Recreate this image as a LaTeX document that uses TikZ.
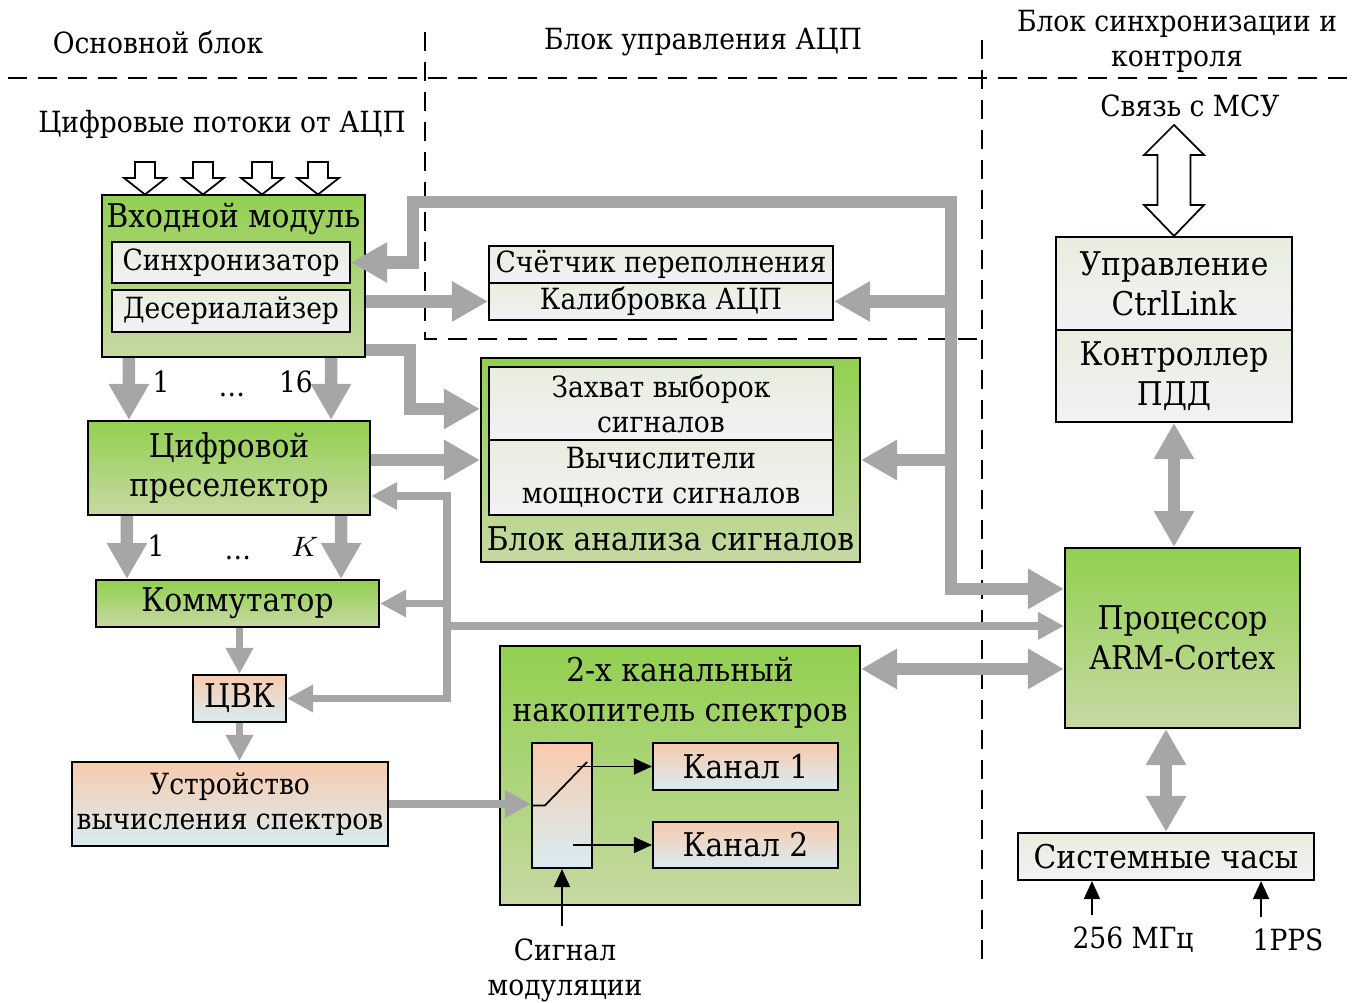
\documentclass[tikz,border=0pt]{standalone}
\usepackage{fontspec}
\setmainfont{DejaVu Serif}[FakeStretch=0.91]
\definecolor{grtop}{RGB}{146, 208, 80}
\definecolor{grbot}{RGB}{198, 217, 162}
\definecolor{gytop}{RGB}{232, 238, 222}
\definecolor{gybot}{RGB}{242, 241, 246}
\definecolor{ortop}{RGB}{248, 203, 173}
\definecolor{orbot}{RGB}{216, 236, 242}
\definecolor{busgrey}{RGB}{166, 166, 166}
\usetikzlibrary{arrows.meta, positioning}
\tikzset{
    greenbox/.style={rectangle, draw=black, line width=0.6pt, top color=grtop, bottom color=grbot,
                     align=center, inner sep=1pt},
    greybox/.style={rectangle, draw=black, line width=0.6pt, top color=gytop, bottom color=gybot,
                    align=center, inner sep=1pt},
    peachbox/.style={rectangle, draw=black, line width=0.6pt, top color=ortop, bottom color=orbot,
                     align=center, inner sep=1pt},
    bigtext/.style={font=\fontsize{9.3pt}{11.3pt}\selectfont},
    busarrow/.style={draw=busgrey, line width=1.25mm, >={Triangle[width=3.8mm, length=3.6mm]}},
    thinbus/.style={draw=busgrey, line width=0.75mm, >={Triangle[width=2.6mm, length=2.6mm]}},
    sigarrow/.style={draw=black, line width=0.5pt, >={Triangle[width=1.6mm, length=1.8mm]}},
    hollow/.style={draw=black, line width=0.5pt, fill=white},
    divider/.style={draw=black, line width=0.6pt, dash pattern=on 1.9mm off 1.1mm},
}

\begin{document}
\begin{tikzpicture}[font=\fontsize{8.3pt}{10pt}\selectfont]
    \useasboundingbox (0,0) rectangle (13.57,-10.03);

    \draw[divider] (0.08,-0.78) -- (13.57,-0.78);
    \draw[divider] (4.25,-0.32) -- (4.25,-3.39) -- (9.82,-3.39);
    \draw[divider] (9.82,-0.40) -- (9.82,-9.62);

    \node (hmain) at (1.58,-0.42) {Основной блок};
    \node (hadc) at (7.03,-0.42) {Блок управления АЦП};
    \node[align=center] (hsync) at (11.77,-0.41) {Блок синхронизации и\\контроля};
    \node (streams) at (2.22,-1.24) {Цифровые потоки от АЦП};
    \node (msu) at (11.90,-1.06) {Связь с МСУ};

    \node[greenbox, minimum width=2.63cm, minimum height=1.62cm,
          label={[anchor=north, bigtext, yshift=1pt]north:Входной модуль}] (inmod) at (2.335,-2.76) {};
    \node[greybox, minimum width=2.38cm, minimum height=0.41cm] (sync) at (2.31,-2.625) {Синхронизатор};
    \node[greybox, minimum width=2.38cm, minimum height=0.42cm, below=0.05cm of sync] (deser) {Десериалайзер};
    \node[greenbox, bigtext, minimum width=2.82cm, minimum height=0.94cm] (presel) at (2.29,-4.68) {Цифровой\\преселектор};
    \node[greenbox, bigtext, minimum width=2.83cm, minimum height=0.47cm] (komm) at (2.375,-6.035) {Коммутатор};
    \node[peachbox, bigtext, minimum width=0.93cm, minimum height=0.47cm] (cvk) at (2.395,-6.985) {ЦВК};
    \node[peachbox, minimum width=3.16cm, minimum height=0.84cm] (fftdev) at (2.30,-8.04) {Устройство\\вычисления спектров};

    \node[greybox, minimum width=3.44cm, minimum height=0.37cm] (ovf) at (6.61,-2.645) {Счётчик переполнения};
    \node[greybox, minimum width=3.44cm, minimum height=0.37cm, below=-0.6pt of ovf] (calib) {Калибровка АЦП};

    \node[greenbox, minimum width=3.79cm, minimum height=2.04cm,
          label={[anchor=south, bigtext]south:Блок анализа сигналов}] (anblk) at (6.705,-4.60) {};
    \node[greybox, minimum width=3.44cm, minimum height=0.73cm] (capt) at (6.61,-4.035) {Захват выборок\\сигналов};
    \node[greybox, minimum width=3.44cm, minimum height=0.75cm, below=-0.6pt of capt] (pwr) {Вычислители\\мощности сигналов};

    \node[greenbox, minimum width=3.60cm, minimum height=2.59cm,
          label={[anchor=north, align=center, bigtext]north:2-х канальный\\накопитель спектров}] (accum) at (6.80,-7.755) {};
    \node[peachbox, minimum width=0.60cm, minimum height=1.25cm] (swbox) at (5.62,-8.055) {};
    \node[peachbox, bigtext, minimum width=1.85cm, minimum height=0.47cm] (ch1) at (7.455,-7.665) {Канал 1};
    \node[peachbox, bigtext, minimum width=1.85cm, minimum height=0.46cm] (ch2) at (7.455,-8.45) {Канал 2};
    \node[align=center] (sigmod) at (5.65,-9.70) {Сигнал\\модуляции};

    \node[greybox, bigtext, minimum width=2.36cm, minimum height=0.93cm] (ctrl) at (11.74,-2.835) {Управление\\CtrlLink};
    \node[greybox, bigtext, minimum width=2.36cm, minimum height=0.92cm, below=-0.6pt of ctrl] (pdd) {Контроллер\\ПДД};
    \node[greenbox, bigtext, minimum width=2.35cm, minimum height=1.80cm] (arm) at (11.825,-6.38) {Процессор\\ARM-Cortex};
    \node[greybox, bigtext, minimum width=2.96cm, minimum height=0.47cm] (clk) at (11.66,-8.565) {Системные часы};
    \node (f256) at (11.33,-9.40) {256 МГц};
    \node (pps) at (12.88,-9.40) {1PPS};

    \node[anchor=base] (n1) at (1.61,-3.93) {1};
    \node[anchor=base] (ndots) at (2.32,-3.97) {\ldots};
    \node[anchor=base] (n16) at (2.96,-3.93) {16};
    \node[anchor=base] (k1) at (1.56,-5.57) {1};
    \node[anchor=base] (kdots) at (2.38,-5.60) {\ldots};
    \node[anchor=base] (kk) at (3.05,-5.57) {$K$};

    \foreach \x in {1.45,2.03,2.62,3.18}
        \draw[hollow] ({\x-0.10},-1.62) -- ({\x+0.10},-1.62) -- ({\x+0.10},-1.78) -- ({\x+0.21},-1.78)
            -- (\x,-1.945) -- ({\x-0.21},-1.78) -- ({\x-0.10},-1.78) -- cycle;
    \draw[hollow] (11.74,-1.25) -- (12.04,-1.55) -- (11.905,-1.55) -- (11.905,-2.05) -- (12.04,-2.05)
        -- (ctrl.north) -- (11.44,-2.05) -- (11.575,-2.05) -- (11.575,-1.55) -- (11.44,-1.55) -- cycle;

    \draw[busarrow, ->] ([xshift=2.8mm]inmod.south west) -- ([xshift=4.2mm]presel.north west);
    \draw[busarrow, ->] ([xshift=-3.5mm]inmod.south east) -- ([xshift=-4mm]presel.north east);
    \draw[busarrow, ->] ([xshift=4mm]presel.south west) -- ([xshift=3.2mm]komm.north west);
    \draw[busarrow, ->] ([xshift=-3mm]presel.south east) -- ([xshift=-3.9mm]komm.north east);
    \draw[thinbus, ->] (cvk.north |- komm.south) -- (cvk.north);
    \draw[thinbus, ->] (cvk.south) -- (cvk.south |- fftdev.north);
    \draw[thinbus, ->] (fftdev.east) -- (fftdev.east -| swbox.west);

    \draw[busarrow, ->] (calib.west -| inmod.east) -- (calib.west);
    \draw[busarrow, ->] ([yshift=0.8mm]inmod.south east) -- ++(0.44,0) |- ([yshift=-5.2mm]anblk.north west);
    \draw[busarrow, ->] (presel.east |- anblk.west) -- (anblk.west);

    \coordinate (loopnw) at (4.13,-2.02);
    \coordinate (loopne) at (9.51,-2.02);
    \coordinate (armin) at ([yshift=-4.2mm]arm.north west);
    \draw[busarrow, <->] (sync.east) -| (loopnw) -- (loopne) |- (armin);
    \draw[busarrow, ->] (loopne |- calib.east) -- (calib.east);
    \draw[busarrow, ->] (loopne |- anblk.east) -- (anblk.east);

    \coordinate (tbus) at (4.47,-4.96);
    \coordinate (armth) at ([yshift=-7.9mm]arm.north west);
    \draw[thinbus, <->] (presel.east |- tbus) -- (tbus) |- (cvk.east);
    \draw[thinbus, ->] (tbus |- komm.east) -- (komm.east);
    \draw[thinbus, ->] (tbus |- armth) -- (armth);

    \coordinate (accin) at ([yshift=-2.4mm]accum.north east);
    \draw[busarrow, <->] (accin) -- (accin -| arm.west);
    \draw[busarrow, <->] (pdd.south) -- (pdd.south |- arm.north);
    \draw[busarrow, <->] (clk.north |- arm.south) -- (clk.north);

    \coordinate (lever) at (5.87,-7.62);
    \coordinate (out1) at (5.77,-7.665);
    \coordinate (out2) at (5.73,-8.45);
    \draw[sigarrow] (swbox.west) -- ++(0.14,0) -- (lever);
    \draw[sigarrow, ->] (out1) -- (out1 -| ch1.west);
    \draw[sigarrow, ->] (out2) -- (out2 -| ch2.west);
    \draw[sigarrow, ->] (swbox.south |- sigmod.north) -- (swbox.south);

    \coordinate (c256) at ([xshift=7.5mm]clk.south west);
    \coordinate (cpps) at ([xshift=-5.4mm]clk.south east);
    \draw[sigarrow, ->] (c256 |- f256.north) -- (c256);
    \draw[sigarrow, ->] (cpps |- pps.north) -- (cpps);
\end{tikzpicture}
\end{document}
